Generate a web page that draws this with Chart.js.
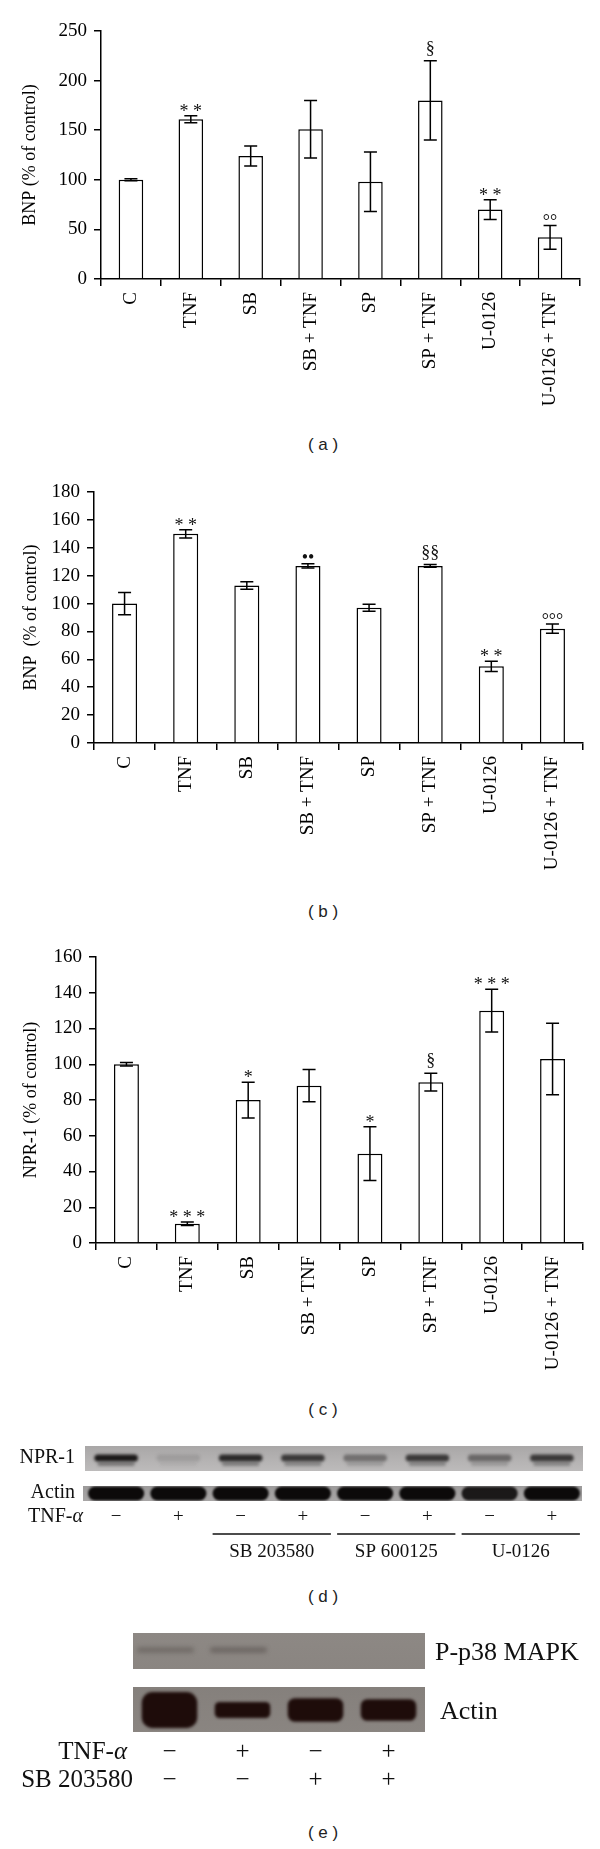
<!DOCTYPE html>
<html lang="en">
<head>
<meta charset="UTF-8">
<title>BNP / NPR-1</title>
<script src="https://cdn.jsdelivr.net/npm/chart.js@4/dist/chart.umd.min.js"></script>
<style>
    body { margin: 0; background: #fff; }
    #page { position: relative; width: 600px; height: 1849px; }
    canvas { position: absolute; left: 0; }
    .tag { position: absolute; left: 0; width: 646px; text-align: center; height: 20px; line-height: 20px;
           font: 17px "Liberation Sans", Arial, sans-serif; color: #222; }
</style>
</head>
<body>
<div id="page">
    <canvas id="chartA" width="600" height="420" style="top:0"></canvas>
    <canvas id="chartB" width="600" height="420" style="top:460px"></canvas>
    <canvas id="chartC" width="600" height="460" style="top:930px"></canvas>
    <canvas id="blotD" width="600" height="140" style="top:1430px"></canvas>
    <canvas id="blotE" width="600" height="175" style="top:1620px"></canvas>
    <div class="tag" style="top:435px">( a )</div>
    <div class="tag" style="top:902px">( b )</div>
    <div class="tag" style="top:1400px">( c )</div>
    <div class="tag" style="top:1587px">( d )</div>
    <div class="tag" style="top:1823px">( e )</div>
</div>

<script>
    const serif = '"Liberation Serif", "Times New Roman", serif';

    const categories = ['C', 'TNF', 'SB', 'SB + TNF', 'SP', 'SP + TNF', 'U-0126', 'U-0126 + TNF'];

    // (a) BNP
    const bnpA = [100, 161, 124, 151, 98, 180, 70, 42];
    const bnpAErr = [1, 3.5, 10, 29, 30, 40, 10, 12];
    const bnpAMarks = ['', '* *', '', '', '', '§', '* *', '°°'];

    // (b) BNP
    const bnpB = [100, 150, 113, 127, 97, 127, 55, 82];
    const bnpBErr = [8, 3, 2.7, 1.5, 2.5, 1, 3.7, 3.3];
    const bnpBMarks = ['', '* *', '', '••', '', '§§', '* *', '°°°'];

    // (c) NPR-1
    const npr1 = [100, 10.8, 80, 88, 50, 90, 130, 103];
    const npr1Err = [1, 1, 10, 9, 15, 5, 12, 20];
    const npr1Marks = ['', '* * *', '*', '', '*', '§', '* * *', ''];

    // (d) western blot, band strength 0..1
    const lanesD = ['−', '+', '−', '+', '−', '+', '−', '+'];
    const npr1BandD = [0.95, 0.12, 0.85, 0.75, 0.4, 0.75, 0.45, 0.75];
    const actinBandD = [1, 1, 1, 1, 1, 1, 0.9, 1];
    const groupsD = ['SB 203580', 'SP 600125', 'U-0126'];

    // (e) western blot
    const tnfLanesE = ['−', '+', '−', '+'];
    const sbLanesE = ['−', '−', '+', '+'];
    const pp38BandE = [0.3, 0.35, 0, 0];
    const actinBandE = [1, 0.45, 0.65, 0.6];

    const errorBars = {
        id: 'errorBars',
        afterDatasetsDraw(chart, args, opts) {
            const {ctx, scales: {y}} = chart;
            const meta = chart.getDatasetMeta(0);
            const vals = chart.data.datasets[0].data;
            ctx.save();
            ctx.strokeStyle = '#000';
            ctx.lineWidth = 1.5;
            opts.errors.forEach((e, i) => {
                const cx = meta.data[i].x;
                const top = y.getPixelForValue(vals[i] + e);
                const bot = y.getPixelForValue(vals[i] - e);
                ctx.beginPath();
                ctx.moveTo(cx, top); ctx.lineTo(cx, bot);
                ctx.moveTo(cx - 6.5, top); ctx.lineTo(cx + 6.5, top);
                ctx.moveTo(cx - 6.5, bot); ctx.lineTo(cx + 6.5, bot);
                ctx.stroke();
                const mark = opts.marks[i];
                if (mark) {
                    ctx.font = `18px ${serif}`;
                    ctx.fillStyle = '#111';
                    ctx.textAlign = 'center';
                    ctx.textBaseline = 'alphabetic';
                    const m = ctx.measureText(mark);
                    ctx.fillText(mark, cx, top - 5 - m.actualBoundingBoxDescent);
                }
            });
            ctx.restore();
        }
    };

    const makeBarChart = (cfg) => new Chart(document.getElementById(cfg.id), {
        type: 'bar',
        data: {
            labels: categories,
            datasets: [{
                data: cfg.values,
                backgroundColor: '#fff',
                borderColor: '#000',
                borderWidth: 1.5,
                barPercentage: 0.41,
                categoryPercentage: 1
            }]
        },
        options: {
            responsive: false,
            animation: false,
            devicePixelRatio: 1,
            layout: {padding: {left: 0, right: 600 - cfg.right, top: cfg.top, bottom: 0}},
            plugins: {
                legend: {display: false},
                tooltip: {enabled: false},
                errorBars: {errors: cfg.errors, marks: cfg.marks}
            },
            scales: {
                x: {
                    offset: true,
                    grid: {drawOnChartArea: false, tickLength: 7, color: '#000', lineWidth: 1.5, offset: true},
                    border: {color: '#000', width: 1.5},
                    ticks: {
                        autoSkip: false, minRotation: 90, maxRotation: 90, padding: 6,
                        color: '#000', font: {family: serif, size: 19}
                    },
                    afterFit: s => { s.height = cfg.xHeight; }
                },
                y: {
                    min: 0,
                    max: cfg.yMax,
                    ticks: {stepSize: cfg.yStep, padding: 7, color: '#000', font: {family: serif, size: 19}},
                    grid: {drawOnChartArea: false, tickLength: 7, color: '#000', lineWidth: 1.5},
                    border: {color: '#000', width: 1.5},
                    title: {
                        display: true, text: cfg.yTitle, color: '#000',
                        font: {family: serif, size: 18}, padding: {top: cfg.titlePad, bottom: 0}
                    },
                    afterFit: s => { s.width = cfg.left; }
                }
            }
        },
        plugins: [errorBars]
    });

    // canvas heights: A 420 (top 0), B 420 (top 460), C 460 (top 930)
    makeBarChart({id: 'chartA', values: bnpA, errors: bnpAErr, marks: bnpAMarks, yMax: 250, yStep: 50,
        yTitle: 'BNP (% of control)', left: 101, right: 580, top: 31, xHeight: 420 - 279, titlePad: 19});
    makeBarChart({id: 'chartB', values: bnpB, errors: bnpBErr, marks: bnpBMarks, yMax: 180, yStep: 20,
        yTitle: 'BNP  (% of control)', left: 94, right: 583, top: 32, xHeight: 420 - 283, titlePad: 20});
    makeBarChart({id: 'chartC', values: npr1, errors: npr1Err, marks: npr1Marks, yMax: 160, yStep: 20,
        yTitle: 'NPR-1 (% of control)', left: 96, right: 583, top: 27, xHeight: 460 - 313, titlePad: 20});

    // ---- blots ----
    const strip = (ctx, x, y, w, h, c1, c2) => {
        const g = ctx.createLinearGradient(0, y, 0, y + h);
        g.addColorStop(0, c1);
        g.addColorStop(1, c2);
        ctx.fillStyle = g;
        ctx.fillRect(x, y, w, h);
    };
    const band = (ctx, clip, cx, cy, w, h, color, blur, round) => {
        ctx.save();
        ctx.beginPath();
        ctx.rect(clip[0], clip[1], clip[2], clip[3]);
        ctx.clip();
        ctx.filter = `blur(${blur}px)`;
        ctx.fillStyle = color;
        ctx.beginPath();
        ctx.roundRect(cx - w / 2, cy - h / 2, w, h, h * (round || 0.5));
        ctx.fill();
        ctx.restore();
    };
    const tnfText = (ctx, rightX, y, size) => {
        ctx.textAlign = 'right';
        ctx.textBaseline = 'middle';
        ctx.fillStyle = '#111';
        ctx.font = `italic ${size}px ${serif}`;
        const aw = ctx.measureText('α').width;
        ctx.fillText('α', rightX, y);
        ctx.font = `${size}px ${serif}`;
        ctx.fillText('TNF-', rightX - aw, y);
    };
    const text = (ctx, s, x, y, size, align) => {
        ctx.font = `${size}px ${serif}`;
        ctx.fillStyle = '#111';
        ctx.textAlign = align;
        ctx.textBaseline = 'middle';
        ctx.fillText(s, x, y);
    };

    const blotChart = (id, lanes, padLeft, padRight, draw) => new Chart(document.getElementById(id), {
        type: 'bar',
        data: {labels: lanes, datasets: []},
        options: {
            responsive: false, animation: false, devicePixelRatio: 1,
            layout: {padding: {left: padLeft, right: padRight, top: 0, bottom: 0}},
            plugins: {legend: {display: false}, tooltip: {enabled: false}},
            scales: {x: {display: false, offset: true}, y: {display: false, min: 0, max: 1}}
        },
        plugins: [{id: 'blot', afterDraw: draw}]
    });

    blotChart('blotD', lanesD, 85, 17, (chart) => {
        const {ctx, scales: {x}, chartArea: a} = chart;
        const lw = x.getPixelForValue(1) - x.getPixelForValue(0);
        const w = a.right - a.left;
        // NPR-1 strip
        const r1 = [a.left, 16, w, 25];
        strip(ctx, ...r1, '#a9a7a7', '#bdbbbb');
        npr1BandD.forEach((v, i) => {
            const cx = x.getPixelForValue(i);
            band(ctx, r1, cx, 28, lw * 0.7, 7, `rgba(18,16,16,${v})`, 1.6);
            band(ctx, r1, cx, 34, lw * 0.6, 4, `rgba(40,38,38,${v * 0.45})`, 1.4);
        });
        // Actin strip
        const r2 = [a.left - 2, 56, w + 1, 15];
        strip(ctx, ...r2, '#9c9a9a', '#a8a6a6');
        actinBandD.forEach((v, i) => {
            band(ctx, r2, x.getPixelForValue(i), 63.5, lw * 0.9, 14, `rgba(12,10,10,${v})`, 1.2);
        });
        text(ctx, 'NPR-1', 75, 28, 20, 'right');
        text(ctx, 'Actin', 75, 63, 20, 'right');
        tnfText(ctx, 83, 87, 20);
        lanesD.forEach((s, i) => text(ctx, s, x.getPixelForValue(i), 87, 19, 'center'));
        // treatment groups under lanes 3-4, 5-6, 7-8
        ctx.strokeStyle = '#111';
        ctx.lineWidth = 1.5;
        groupsD.forEach((g, k) => {
            const x0 = x.getPixelForValue(2 + 2 * k) - lw * 0.45;
            const x1 = x.getPixelForValue(3 + 2 * k) + lw * 0.45;
            ctx.beginPath();
            ctx.moveTo(x0, 104);
            ctx.lineTo(x1, 104);
            ctx.stroke();
            text(ctx, g, (x0 + x1) / 2, 122, 19, 'center');
        });
    });

    blotChart('blotE', tnfLanesE, 133, 175, (chart) => {
        const {ctx, scales: {x}, chartArea: a} = chart;
        const lw = x.getPixelForValue(1) - x.getPixelForValue(0);
        const w = a.right - a.left;
        const r1 = [a.left, 13, w, 36];
        strip(ctx, ...r1, '#8d8884', '#8a8581');
        pp38BandE.forEach((v, i) => {
            if (v > 0) band(ctx, r1, x.getPixelForValue(i) - 4, 30, lw * 0.78, 6, `rgba(60,52,50,${v})`, 2);
        });
        const r2 = [a.left, 67, w, 45];
        strip(ctx, ...r2, '#85807c', '#8a8581');
        actinBandE.forEach((v, i) => {
            band(ctx, r2, x.getPixelForValue(i), 90, lw * 0.76, 36 * v, 'rgb(30,12,10)', 1.5, 0.3);
        });
        text(ctx, 'P-p38 MAPK', 435, 33, 26, 'left');
        text(ctx, 'Actin', 440, 92, 26, 'left');
        tnfText(ctx, 127, 132, 25);
        text(ctx, 'SB 203580', 133, 160, 25, 'right');
        tnfLanesE.forEach((s, i) => text(ctx, s, x.getPixelForValue(i), 132, 25, 'center'));
        sbLanesE.forEach((s, i) => text(ctx, s, x.getPixelForValue(i), 160, 25, 'center'));
    });
</script>
</body>
</html>
